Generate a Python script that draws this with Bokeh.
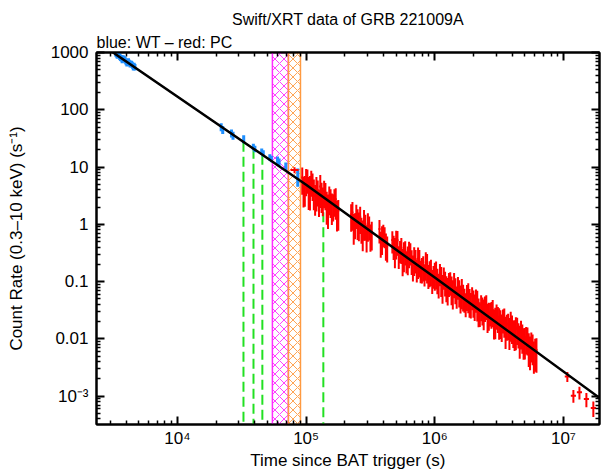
import numpy as np
from bokeh.plotting import figure
from bokeh.models import (LogAxis, FixedTicker, CustomJSTickFormatter, Title, Range1d)
from bokeh.embed import file_html
from bokeh.resources import INLINE

# ---------------- text ----------------
title_text = "Swift/XRT data of GRB 221009A"
subtitle_text = "blue: WT \u2013 red: PC"
x_label = "Time since BAT trigger (s)"
y_label = "Count Rate (0.3\u201310 keV) (s\u207b\u00b9)"

x_tick_labels = {"4": "10\u2074", "5": "10\u2075", "6": "10\u2076", "7": "10\u2077"}
y_tick_labels = {"3": "1000", "2": "100", "1": "10", "0": "1",
                 "-1": "0.1", "-2": "0.01", "-3": "10\u207b\u00b3"}

x_major = [1e3, 1e4, 1e5, 1e6, 1e7, 1e8]
y_major = [1e-4, 1e-3, 1e-2, 1e-1, 1, 10, 100, 1000]

# ---------------- WT (blue) data ----------------
wt_log_time = [3.520, 3.526, 3.532, 3.539, 3.545, 3.551, 3.557, 3.564, 3.570, 3.576,
               3.582, 3.589, 3.595, 3.601, 3.607, 3.614, 3.620, 3.626, 3.632, 3.639,
               3.645, 3.651, 3.657, 3.664, 3.670,
               4.340, 4.352, 4.420, 4.432, 4.515, 4.590, 4.602, 4.655, 4.667, 4.718,
               4.730, 4.778, 4.790, 4.842, 4.935]
wt_rate = [975, 940, 893, 930, 914, 850, 817, 800, 745, 790,
           783, 760, 731, 690, 653, 690, 700, 660, 627, 640,
           627, 600, 560, 585, 560,
           50.0, 45.0, 39.0, 35.5, 31.0, 22.5, 20.8, 18.6, 17.4, 14.8,
           14.0, 13.2, 12.2, 10.4, 7.0]
wt_err = [0.13, 0.13, 0.13, 0.13, 0.13, 0.13, 0.13, 0.13, 0.13, 0.13,
          0.13, 0.13, 0.13, 0.13, 0.13, 0.13, 0.13, 0.13, 0.13, 0.13,
          0.13, 0.13, 0.13, 0.13, 0.13,
          0.16, 0.16, 0.16, 0.16, 0.16, 0.13, 0.13, 0.13, 0.13, 0.13,
          0.13, 0.16, 0.16, 0.16, 0.35]
wt_log_hw = 0.006

# ---------------- PC (red) data ----------------
pc_log_time = [4.97, 4.99, 5.01, 5.03, 5.05, 5.07, 5.09, 5.11, 5.13, 5.15,
               5.17, 5.19, 5.21, 5.23, 5.25,
               5.35, 5.37, 5.39, 5.41, 5.43, 5.45, 5.47, 5.49, 5.51,
               5.57, 5.59, 5.61, 5.63, 5.67, 5.69, 5.71, 5.73, 5.75, 5.77,
               5.79, 5.81, 5.83, 5.85, 5.87, 5.89, 5.91, 5.93, 5.95, 5.97,
               5.99, 6.01, 6.03, 6.05, 6.07, 6.09, 6.11, 6.13, 6.15, 6.17,
               6.19, 6.21, 6.23, 6.25, 6.27, 6.29, 6.31, 6.33, 6.35, 6.37,
               6.39, 6.41, 6.43, 6.45, 6.47, 6.49, 6.51, 6.53, 6.55, 6.57,
               6.59, 6.61, 6.63, 6.65, 6.67, 6.69, 6.71, 6.73, 6.75, 6.77, 6.79]
pc_rate = [6.55, 4.52, 6.22, 4.38, 5.12, 3.14, 3.93, 4.59, 2.88, 3.52,
           2.07, 2.70, 2.24, 2.74, 1.72,
           1.49, 0.98, 1.51, 1.06, 0.877, 1.15, 0.644, 0.946, 0.731,
           0.826, 0.608, 0.634, 0.416, 0.531, 0.373, 0.525, 0.361, 0.248, 0.349,
           0.269, 0.330, 0.193, 0.247, 0.252, 0.161, 0.189, 0.215, 0.135, 0.162,
           0.131, 0.149, 0.0935, 0.117, 0.124, 0.0838, 0.0977, 0.0807, 0.0966, 0.0578,
           0.0706, 0.0718, 0.0518, 0.0590, 0.0488, 0.0557, 0.0401, 0.0447, 0.0300, 0.0351,
           0.0373, 0.0269, 0.0293, 0.0319, 0.0224, 0.0244, 0.0207, 0.0225, 0.0155, 0.0185,
           0.0193, 0.0139, 0.0151, 0.0128, 0.0136, 0.0098, 0.0107, 0.00787, 0.00838,
           0.00575, 0.00641]
pc_err = [0.50, 0.55, 0.45, 0.60, 0.50, 0.55, 0.48, 0.58, 0.52, 0.50,
          0.60, 0.52, 0.50, 0.56, 0.55,
          0.50, 0.55, 0.45, 0.52, 0.48, 0.55, 0.50, 0.45, 0.52,
          0.44, 0.52, 0.40, 0.48, 0.42, 0.54, 0.46, 0.42, 0.50, 0.45,
          0.52, 0.42, 0.48, 0.44, 0.56, 0.42, 0.47, 0.52, 0.45, 0.49,
          0.43, 0.51, 0.46, 0.54, 0.42, 0.48, 0.45, 0.52, 0.47, 0.42,
          0.50, 0.54, 0.45, 0.48, 0.52, 0.43, 0.49, 0.55, 0.46, 0.51,
          0.47, 0.53, 0.44, 0.50, 0.56, 0.48, 0.52, 0.45, 0.57, 0.49,
          0.54, 0.50, 0.58, 0.47, 0.52, 0.56, 0.50, 0.59, 0.54, 0.57, 0.60]

# second (interleaved) set of PC bins
pc2_log_time = [4.98, 5.00, 5.02, 5.04, 5.06, 5.08, 5.10, 5.12, 5.14, 5.16,
                5.18, 5.20, 5.22, 5.24,
                5.36, 5.38, 5.40, 5.42, 5.44, 5.46, 5.48, 5.50,
                5.58, 5.60, 5.62, 5.68, 5.70, 5.72, 5.74, 5.76, 5.78, 5.80,
                5.82, 5.84, 5.86, 5.88, 5.90, 5.92, 5.94, 5.96, 5.98, 6.00,
                6.02, 6.04, 6.06, 6.08, 6.10, 6.12, 6.14, 6.16, 6.18, 6.20,
                6.22, 6.24, 6.26, 6.28, 6.30, 6.32, 6.34, 6.36, 6.38, 6.40,
                6.42, 6.44, 6.46, 6.48, 6.50, 6.52, 6.54, 6.56, 6.58, 6.60,
                6.62, 6.64, 6.66, 6.68, 6.70, 6.72, 6.74, 6.76, 6.78]
pc2_rate = [4.38, 6.17, 4.25, 5.82, 3.92, 4.17, 2.68, 3.44, 3.83, 2.35,
            3.01, 2.22, 2.72, 1.66,
            1.61, 1.06, 1.18, 1.35, 0.753, 0.989, 1.03, 0.661,
            0.501, 0.689, 0.463, 0.435, 0.508, 0.291, 0.390, 0.316, 0.238, 0.334,
            0.241, 0.262, 0.169, 0.237, 0.175, 0.141, 0.198, 0.153, 0.110, 0.141,
            0.114, 0.143, 0.0855, 0.102, 0.0769, 0.101, 0.0693, 0.0773, 0.0843, 0.0566,
            0.0589, 0.0434, 0.0610, 0.0429, 0.0467, 0.0508, 0.0334, 0.0390, 0.0315, 0.0394,
            0.0284, 0.0295, 0.0212, 0.0272, 0.0220, 0.0177, 0.0222, 0.0179, 0.0148, 0.0169,
            0.0137, 0.0156, 0.0107, 0.0117, 0.00989, 0.0105, 0.00690, 0.00771, 0.00637]
pc2_err = [0.55, 0.50, 0.58, 0.48, 0.55, 0.60, 0.50, 0.54, 0.50, 0.58,
           0.52, 0.56, 0.50, 0.55,
           0.52, 0.48, 0.55, 0.50, 0.55, 0.48, 0.52, 0.50,
           0.48, 0.42, 0.50, 0.45, 0.52, 0.43, 0.48, 0.54, 0.42, 0.49,
           0.46, 0.52, 0.43, 0.50, 0.47, 0.42, 0.53, 0.48, 0.45, 0.51,
           0.47, 0.42, 0.52, 0.46, 0.50, 0.44, 0.53, 0.48, 0.43, 0.51,
           0.49, 0.45, 0.54, 0.47, 0.50, 0.44, 0.52, 0.48, 0.55, 0.46,
           0.51, 0.49, 0.54, 0.47, 0.56, 0.50, 0.53, 0.48, 0.57, 0.52,
           0.55, 0.50, 0.58, 0.53, 0.56, 0.51, 0.59, 0.55, 0.58]
pc_log_hw = 0.008

# sparse PC points (wider time bins)
pcs_log_time = [4.91, 7.030, 7.077, 7.124, 7.178, 7.232]
pcs_rate = [8.9, 2.2e-3, 1.02e-3, 1.17e-3, 8.9e-4, 6.2e-4]
pcs_err = [0.12, 0.20, 0.25, 0.25, 0.28, 0.30]
pcs_log_hw = [0.031, 0.02, 0.02, 0.02, 0.02, 0.02]

# ---------------- model (black) ----------------
model_time = [3000, 1.0e5, 1.0e6, 2.0e7]
model_rate = [1084, 4.9, 0.1175, 8.6e-4]

# ---------------- marked intervals ----------------
band_left = [5.47e4, 7.28e4]
band_right = [7.28e4, 9.04e4]
band_colors = ["#FF2BFF", "#FF9A40"]

green_time = [3.26e4, 3.90e4, 4.57e4, 1.361e5]

# ---------------- figure ----------------
X_MIN, X_MAX = 2350, 1.905e7
Y_MIN, Y_MAX = 3.2e-4, 1000

p = figure(width=605, height=472, x_axis_type="log", y_axis_type="log",
           x_range=Range1d(X_MIN, X_MAX), y_range=Range1d(Y_MIN, Y_MAX),
           output_backend="svg", toolbar_location=None,
           min_border_left=96, min_border_right=6, min_border_top=52,
           min_border_bottom=10)
p.grid.visible = False
p.outline_line_color = "black"
p.outline_line_width = 2
p.background_fill_color = "white"
p.border_fill_color = "white"

FONT = "Liberation Sans"
RED = "#FF0000"
BLUE = "#1E8FFF"

# bands
for l, r, c in zip(band_left, band_right, band_colors):
    p.quad(left=[l], right=[r], bottom=[Y_MIN], top=[Y_MAX], fill_alpha=0,
           line_color=c, line_width=1.5, hatch_pattern="diagonal_cross",
           hatch_color=c, hatch_scale=9, hatch_weight=1, hatch_alpha=0.9)

# green dashed lines from model value down
lm_t = np.log10(model_time)
lm_r = np.log10(model_rate)
g_top = 10 ** np.interp(np.log10(green_time), lm_t, lm_r)
p.segment(x0=green_time, y0=g_top, x1=green_time, y1=[Y_MIN] * len(green_time),
          line_color="#22E022", line_width=2, line_dash="10 5")


def errbars(log_t, rate, frac, log_hw, color, width):
    t = 10 ** np.array(log_t)
    r = np.array(rate)
    e = np.array(frac) * r
    hw = 10 ** np.array(log_hw)
    p.segment(x0=t, y0=r - e, x1=t, y1=r + e, line_color=color, line_width=width)
    p.segment(x0=t / hw, y0=r, x1=t * hw, y1=r, line_color=color, line_width=width)


errbars(wt_log_time, wt_rate, wt_err, wt_log_hw, BLUE, 3)
errbars(pc_log_time, pc_rate, pc_err, pc_log_hw, RED, 2)
errbars(pc2_log_time, pc2_rate, pc2_err, pc_log_hw, RED, 2)
errbars(pcs_log_time, pcs_rate, pcs_err, pcs_log_hw, RED, 2)

# model
p.line(model_time, model_rate, line_color="black", line_width=2.5)

# ---------------- axes ----------------
x_minor = [m * d for d in x_major for m in range(2, 10)]
y_minor = [m * d for d in y_major for m in range(2, 10)]

fmt_code = """
const k = String(Math.round(Math.log10(tick)));
return (k in labels) ? labels[k] : "";
"""
xfmt = CustomJSTickFormatter(args=dict(labels=x_tick_labels), code=fmt_code)
yfmt = CustomJSTickFormatter(args=dict(labels=y_tick_labels), code=fmt_code)
blank = CustomJSTickFormatter(code="return '';")


def style_axis(ax):
    ax.major_tick_in = 8
    ax.major_tick_out = 0
    ax.minor_tick_in = 4
    ax.minor_tick_out = 0
    ax.major_tick_line_width = 2
    ax.minor_tick_line_width = 1.5
    ax.axis_line_width = 2
    ax.major_tick_line_color = "black"
    ax.minor_tick_line_color = "black"
    ax.major_label_text_font = FONT
    ax.major_label_text_font_size = "17px"
    ax.major_label_text_color = "black"
    ax.axis_label_text_font = FONT
    ax.axis_label_text_font_size = "17px"
    ax.axis_label_text_font_style = "normal"
    ax.axis_label_text_color = "black"


xa = p.xaxis[0]
ya = p.yaxis[0]
xa.ticker = FixedTicker(ticks=x_major, minor_ticks=x_minor)
ya.ticker = FixedTicker(ticks=y_major, minor_ticks=y_minor)
xa.formatter = xfmt
ya.formatter = yfmt
style_axis(xa)
style_axis(ya)
xa.axis_label = x_label
ya.axis_label = y_label
xa.major_label_standoff = 4
xa.axis_label_standoff = 0
ya.major_label_standoff = 8
ya.axis_label_standoff = 22

top_ax = LogAxis(ticker=FixedTicker(ticks=x_major, minor_ticks=x_minor), formatter=blank)
right_ax = LogAxis(ticker=FixedTicker(ticks=y_major, minor_ticks=y_minor), formatter=blank)
for ax in (top_ax, right_ax):
    style_axis(ax)
    ax.major_label_text_font_size = "0px"
    ax.major_label_standoff = 0
p.add_layout(top_ax, "above")
p.add_layout(right_ax, "right")

# ---------------- titles ----------------
sub = Title(text=subtitle_text, align="left", text_font=FONT, text_font_size="16px",
            text_font_style="normal", text_color="black", standoff=3)
main = Title(text=title_text, align="center", text_font=FONT, text_font_size="16px",
             text_font_style="normal", text_color="black", standoff=5)
p.add_layout(sub, "above")
p.add_layout(main, "above")

open("out.html", "w").write(file_html(p, INLINE))
